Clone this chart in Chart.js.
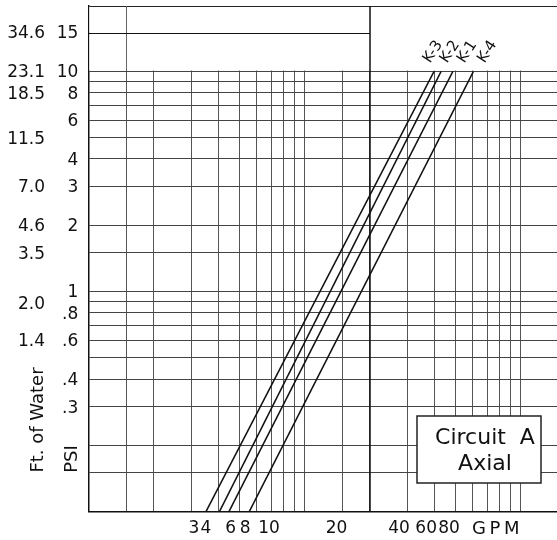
<!DOCTYPE html>
<html><head><meta charset="utf-8">
<script src="https://cdn.jsdelivr.net/npm/chart.js@4.4.1/dist/chart.umd.min.js"></script>
<style>html,body{margin:0;padding:0;background:#fff}#wrap{width:557px;height:540px;position:relative}</style>
</head><body><div id="wrap"><canvas id="c" width="557" height="540"></canvas></div>
<script>
// Log-paper grid values
const gpmGrid = [1,1.5,2,3,4,5,6,7,8,9,10,15,20,30,40,50,60,70,80,90,100];
const psiGrid = [0.1,0.15,0.2,0.3,0.4,0.5,0.6,0.7,0.8,0.9,1,1.5,2,3,4,5,6,7,8,9,10,15];
// Tick labels (as printed on the original chart)
const psiLabelAt = [15,10,8,6,4,3,2,1,0.8,0.6,0.4,0.3];
const psiLabelText = ['15','10','8','6','4','3','2','1','.8','.6','.4','.3'];
const ftLabelAt = [15,10,8,5,3,2,1.5,0.89,0.6];
const ftLabelText = ['34.6','23.1','18.5','11.5','7.0','4.6','3.5','2.0','1.4'];
const gpmLabelAt = [3.08,3.5,4.55,5.31,6.85,14.06,27.36,36.5,46.6,76.5];
const gpmLabelText = ['3','4','6','8','10','20','40','60','80','G\u2009P\u2009M'];
// Series: K curves (GPM at PSI ends)
const seriesNames = ['K-3','K-2','K-1','K-4'];
const psiEnds = [0.1, 10];
const gpmK3 = [3.5, 39.7];
const gpmK2 = [4.04, 42.8];
const gpmK1 = [4.47, 48.5];
const gpmK4 = [5.55, 60.4];
const seriesGpm = [gpmK3, gpmK2, gpmK1, gpmK4];

const X_MAX = 147, Y_MIN = 0.1, Y_MAX = 19.8;
const FONT = '"DejaVu Sans", Verdana, sans-serif';

const overlay = {
  id: 'overlay',
  beforeDatasetsDraw(chart) {
    const {ctx, chartArea: a, scales: {x, y}} = chart;
    const y10 = Math.round(y.getPixelForValue(10));
    ctx.save();
    ctx.fillStyle = '#fff';
    ctx.fillRect(a.left + 1, a.top + 1, a.right - a.left, y10 - a.top - 1.5);
    ctx.lineWidth = 1;
    ctx.strokeStyle = '#666';
    const x15 = Math.round(x.getPixelForValue(1.5)) + 0.5;
    ctx.beginPath(); ctx.moveTo(x15, a.top); ctx.lineTo(x15, y10); ctx.stroke();
    ctx.strokeStyle = '#111';
    ctx.lineWidth = 1.5;
    const x20 = Math.round(x.getPixelForValue(20));
    ctx.beginPath(); ctx.moveTo(x20, a.top); ctx.lineTo(x20, a.bottom); ctx.stroke();
    ctx.lineWidth = 1.2;
    const y15 = Math.round(y.getPixelForValue(15)) + 0.5;
    ctx.beginPath(); ctx.moveTo(a.left, y15); ctx.lineTo(x20, y15); ctx.stroke();
    ctx.restore();
  },
  afterDatasetsDraw(chart) {
    const {ctx, scales: {x, y}} = chart;
    ctx.save();
    const dx = [-1, 9, 14.5, 14];
    const y10 = y.getPixelForValue(10);
    ctx.font = '15px ' + FONT;
    ctx.fillStyle = '#111';
    ctx.textAlign = 'center';
    ctx.textBaseline = 'middle';
    seriesNames.forEach((n, i) => {
      const px = x.getPixelForValue(seriesGpm[i][1]) + dx[i];
      ctx.save();
      ctx.translate(px, y10 - 19.5);
      ctx.rotate(-57 * Math.PI / 180);
      ctx.fillText(n, 0, 0);
      ctx.restore();
    });
    // Circuit box
    const bx = 417, by = 416, bw = 124, bh = 67;
    ctx.fillStyle = '#fff';
    ctx.fillRect(bx, by, bw, bh);
    ctx.strokeStyle = '#222';
    ctx.lineWidth = 1.5;
    ctx.strokeRect(bx, by, bw, bh);
    ctx.fillStyle = '#111';
    ctx.font = '22px ' + FONT;
    ctx.textBaseline = 'alphabetic';
    ctx.fillText('Circuit  A', 485, 444);
    ctx.fillText('Axial', 485, 470);
    // axis titles
    ctx.font = '18px ' + FONT;
    ctx.textBaseline = 'middle';
    ctx.save(); ctx.translate(38, 420); ctx.rotate(-Math.PI / 2); ctx.fillText('Ft. of Water', 0, 0); ctx.restore();
    ctx.save(); ctx.translate(72, 459); ctx.rotate(-Math.PI / 2); ctx.fillText('PSI', 0, 0); ctx.restore();
    ctx.restore();
  }
};

const datasets = seriesNames.map((n, i) => ({
  label: n,
  data: seriesGpm[i].map((g, j) => ({x: g, y: psiEnds[j]})),
  showLine: true,
  borderColor: '#111',
  borderWidth: 1.5,
  pointRadius: 0,
  fill: false
}));

const noPadV = s => { s.paddingTop = 0; s.paddingBottom = 0; };

new Chart(document.getElementById('c'), {
  type: 'scatter',
  data: {datasets},
  plugins: [overlay],
  options: {
    responsive: false,
    animation: false,
    layout: {padding: {top: 6, right: 0, left: 0, bottom: 0}},
    plugins: {legend: {display: false}, tooltip: {enabled: false}},
    scales: {
      x: {
        type: 'logarithmic', position: 'bottom', min: 1, max: X_MAX,
        afterBuildTicks: s => { s.ticks = [...gpmGrid, ...gpmLabelAt].sort((a, b) => a - b).map(v => ({value: v})); },
        afterFit: s => { s.height = 28.3; s.paddingLeft = 0; s.paddingRight = 0; },
        ticks: {
          autoSkip: false, maxRotation: 0, minRotation: 0, padding: 7, color: '#111',
          font: c => ({family: FONT, size: (c.tick && c.tick.value === gpmLabelAt[gpmLabelAt.length - 1]) ? 18 : 17}),
          callback: v => { const i = gpmLabelAt.indexOf(v); return i >= 0 ? gpmLabelText[i] : ''; }
        },
        grid: {
          drawTicks: false, lineWidth: 1,
          color: c => (c.tick && gpmGrid.includes(c.tick.value)) ? '#555' : 'rgba(0,0,0,0)'
        },
        border: {color: '#111', width: 1.5}
      },
      y: {
        type: 'logarithmic', position: 'left', min: Y_MIN, max: Y_MAX, weight: 0,
        afterBuildTicks: s => { s.ticks = [...psiGrid, Y_MAX].map(v => ({value: v})); },
        afterFit: s => { s.width = 38.3; noPadV(s); },
        ticks: {
          autoSkip: false, padding: 10, color: '#111', labelOffset: 1.5,
          font: {family: FONT, size: 17},
          callback: v => { const i = psiLabelAt.indexOf(v); return i >= 0 ? psiLabelText[i] : ''; }
        },
        grid: {
          drawTicks: false, lineWidth: 1,
          color: c => (c.tick && c.tick.value === Y_MAX) ? '#222' : '#444'
        },
        border: {color: '#111', width: 1.5}
      },
      yFt: {
        type: 'logarithmic', position: 'left', min: Y_MIN, max: Y_MAX, weight: 1,
        afterBuildTicks: s => { s.ticks = ftLabelAt.map(v => ({value: v})); },
        afterFit: s => { s.width = 50; noPadV(s); },
        ticks: {
          autoSkip: false, padding: 5, color: '#111', labelOffset: 1.5,
          font: {family: FONT, size: 17},
          callback: v => { const i = ftLabelAt.indexOf(v); return i >= 0 ? ftLabelText[i] : ''; }
        },
        grid: {display: false, drawTicks: false},
        border: {display: false}
      }
    }
  }
});
</script>
</body></html>
